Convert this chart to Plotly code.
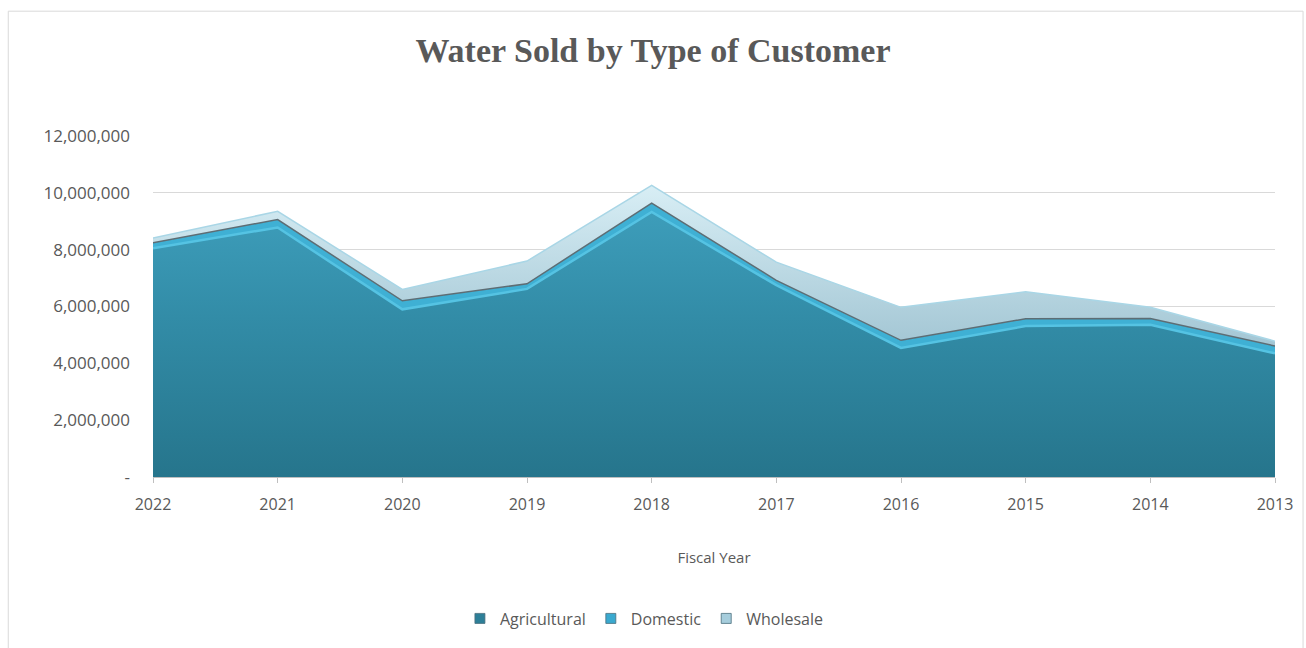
import plotly.graph_objects as go

# Fiscal years, newest first
years = ["2022", "2021", "2020", "2019", "2018", "2017", "2016", "2015", "2014", "2013"]

# Water sold by customer type
agricultural = [8050000, 8780000, 5900000, 6620000, 9330000, 6750000, 4540000, 5310000, 5360000, 4350000]
domestic = [190000, 280000, 300000, 180000, 310000, 170000, 270000, 260000, 220000, 260000]
wholesale = [170000, 290000, 400000, 800000, 620000, 640000, 1160000, 950000, 390000, 170000]

y_ticks = [0, 2000000, 4000000, 6000000, 8000000, 10000000, 12000000]
y_tick_text = ["-", "2,000,000", "4,000,000", "6,000,000", "8,000,000", "10,000,000", "12,000,000"]

TEXT = "#595959"
series_names = ["Agricultural", "Domestic", "Wholesale"]
legend_colors = ["#2d7f98", "#3aa9cf", "#a6cddc"]

fig = go.Figure()

fig.add_trace(go.Scatter(
    x=years, y=agricultural, name="Agricultural", stackgroup="one",
    mode="lines", line=dict(color="#55c3e3", width=2.5), showlegend=False,
    fillgradient=dict(type="vertical",
                      colorscale=[[0, "#26758c"], [0.6, "#328ca7"], [1, "#3d9dba"]]),
))
fig.add_trace(go.Scatter(
    x=years, y=domestic, name="Domestic", stackgroup="one",
    mode="lines", line=dict(color="#5d6d74", width=1.5), showlegend=False,
    fillcolor="#3fb0d4",
))
fig.add_trace(go.Scatter(
    x=years, y=wholesale, name="Wholesale", stackgroup="one",
    mode="lines", line=dict(color="#a9d6e6", width=1.5), showlegend=False,
    fillgradient=dict(type="vertical",
                      colorscale=[[0, "#a3c6d4"], [1, "#d8eef5"]]),
))

# square legend keys
for name, col in zip(series_names, legend_colors):
    fig.add_trace(go.Scatter(
        x=[None], y=[None], name=name, mode="markers",
        marker=dict(symbol="square", size=10, color=col,
                    line=dict(color="#4a6f7c", width=0.8)),
    ))

# outer chart border
fig.add_shape(type="rect", xref="paper", yref="paper",
              x0=-0.129, x1=1.025, y0=-0.52, y1=1.366,
              line=dict(color="#d9d9d9", width=1), fillcolor="rgba(0,0,0,0)", layer="below")

fig.update_layout(
    width=1306, height=648,
    margin=dict(l=153, r=31, t=136, b=168),
    paper_bgcolor="white", plot_bgcolor="white",
    title=dict(text="<b>Water Sold by Type of Customer</b>", x=0.5, xanchor="center",
               y=0.923, yanchor="middle",
               font=dict(family="Liberation Serif", size=34, color=TEXT)),
    font=dict(family="Open Sans", color=TEXT, size=16),
    xaxis=dict(type="category", range=[0, 9], showgrid=False,
               showline=True, linecolor="#bfbfbf", linewidth=1,
               ticks="outside", tickcolor="#bfbfbf", ticklen=5,
               ticklabelstandoff=8,
               tickfont=dict(size=16, color=TEXT),
               title=dict(text="Fiscal Year", font=dict(size=15, color=TEXT), standoff=38)),
    yaxis=dict(range=[0, 12000000], tickvals=y_ticks, ticktext=y_tick_text,
               showgrid=True, gridcolor="#d9d9d9", gridwidth=1, zeroline=False,
               showline=False, ticks="", ticklabelstandoff=22,
               tickfont=dict(size=17, color=TEXT)),
    legend=dict(orientation="h", x=0.438, xanchor="center", y=-0.415, yanchor="middle",
                font=dict(size=16, color=TEXT), traceorder="normal",
                itemwidth=30, tracegroupgap=0),
    showlegend=True,
)

fig.write_html("out.html")
